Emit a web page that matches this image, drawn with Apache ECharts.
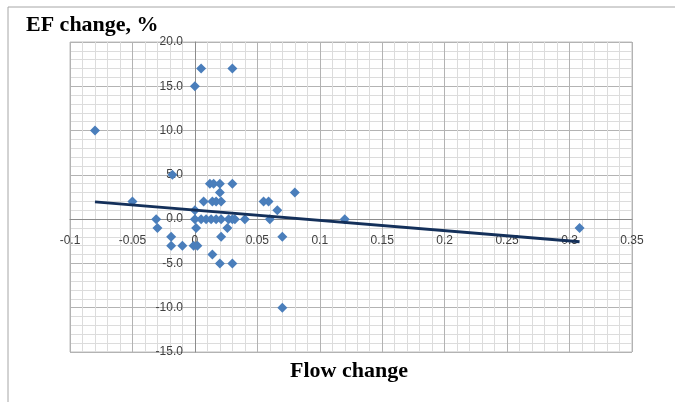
<!DOCTYPE html>
<html>
<head>
<meta charset="utf-8">
<script src="https://cdn.jsdelivr.net/npm/echarts@6/dist/echarts.min.js"></script>
<style>
html,body{margin:0;padding:0;background:#fff;}
#chart{width:675px;height:402px;}
</style>
</head>
<body>
<div id="chart"></div>
<script>
// Data
var flowChange = [-0.080, 0.000, 0.005, 0.030, -0.018, -0.050, -0.031, -0.030, -0.019, -0.019,
  -0.010, -0.001, 0.002, 0.000, 0.000, 0.001, 0.005, 0.009, 0.013, 0.017,
  0.021, 0.007, 0.014, 0.017, 0.021, 0.012, 0.015, 0.020, 0.030, 0.020,
  0.021, 0.026, 0.027, 0.030, 0.032, 0.040, 0.014, 0.020, 0.030, 0.055,
  0.059, 0.080, 0.066, 0.060, 0.070, 0.120, 0.070, 0.308];
var efChange = [10, 15, 17, 17, 5, 2, 0, -1, -2, -3,
  -3, -3, -3, 1, 0, -1, 0, 0, 0, 0,
  0, 2, 2, 2, 2, 4, 4, 4, 4, 3,
  -2, -1, 0, 0, 0, 0, -4, -5, -5, 2,
  2, 3, 1, 0, -2, 0, -10, -1];
var trendX = [-0.080, 0.308];
var trendY = [1.95, -2.55];
var xTicks = [-0.1, 0.35, 0.05];   // min, max, interval
var yTicks = [-15, 20, 5];

var points = flowChange.map(function (x, i) { return [x, efChange[i]]; });
var trend = trendX.map(function (x, i) { return [x, trendY[i]]; });

var G = {left: 70, right: 43, top: 42, bottom: 50};
var plotW = 675 - G.left - G.right, plotH = 402 - G.top - G.bottom;
// distance of the zero lines from the plot's bottom / left edges
var xAxisOffset = -plotH * (0 - yTicks[0]) / (yTicks[1] - yTicks[0]);
var yAxisOffset = -plotW * (0 - xTicks[0]) / (xTicks[1] - xTicks[0]);

var chart = echarts.init(document.getElementById('chart'), null, {renderer: 'canvas'});
chart.setOption({
  backgroundColor: '#ffffff',
  animation: false,
  title: [{
    text: 'EF change, %', left: 21, top: 9,
    textStyle: {fontFamily: 'Liberation Serif', fontWeight: 'bold', fontSize: 22, color: '#000'}
  }],
  graphic: [{
    type: 'rect', shape: {x: 8, y: 7, width: 720, height: 440},
    style: {fill: 'none', stroke: '#a6a6a6', lineWidth: 1}, silent: true
  }, {
    type: 'text', left: 290, top: 360,
    style: {text: 'Flow change', font: 'bold 22px "Liberation Serif"', fill: '#000'}
  }],
  grid: {left: G.left, right: G.right, top: G.top, bottom: G.bottom, show: true, borderColor: '#bfbfbf', borderWidth: 1},
  xAxis: {
    type: 'value', min: xTicks[0], max: xTicks[1], interval: xTicks[2],
    position: 'bottom', offset: xAxisOffset,
    axisLine: {onZero: false, lineStyle: {color: '#8c8c8c', width: 1}},
    axisTick: {show: false},
    axisLabel: {margin: 16, fontFamily: 'Liberation Sans', fontSize: 12, color: '#404040',
      formatter: function (v) { return String(+v.toFixed(2)); }},
    splitLine: {show: true, lineStyle: {color: '#b3b3b3', width: 1}},
    minorTick: {show: false, splitNumber: 5},
    minorSplitLine: {show: true, lineStyle: {color: '#dcdcdc', width: 1}}
  },
  yAxis: {
    type: 'value', min: yTicks[0], max: yTicks[1], interval: yTicks[2],
    position: 'left', offset: yAxisOffset,
    axisLine: {onZero: false, lineStyle: {color: '#8c8c8c', width: 1}},
    axisTick: {show: false},
    axisLabel: {margin: 12, fontFamily: 'Liberation Sans', fontSize: 12, color: '#404040',
      formatter: function (v) { return v.toFixed(1); }},
    splitLine: {show: true, lineStyle: {color: '#b3b3b3', width: 1}},
    minorTick: {show: false, splitNumber: 5},
    minorSplitLine: {show: true, lineStyle: {color: '#dcdcdc', width: 1}}
  },
  series: [{
    type: 'scatter', data: points, symbol: 'diamond', symbolSize: 10,
    itemStyle: {color: '#4a7ebb', opacity: 1, borderWidth: 0}, z: 3
  }, {
    type: 'line', data: trend, symbol: 'none', z: 4,
    lineStyle: {color: '#14305a', width: 3}
  }]
});
</script>
</body>
</html>
